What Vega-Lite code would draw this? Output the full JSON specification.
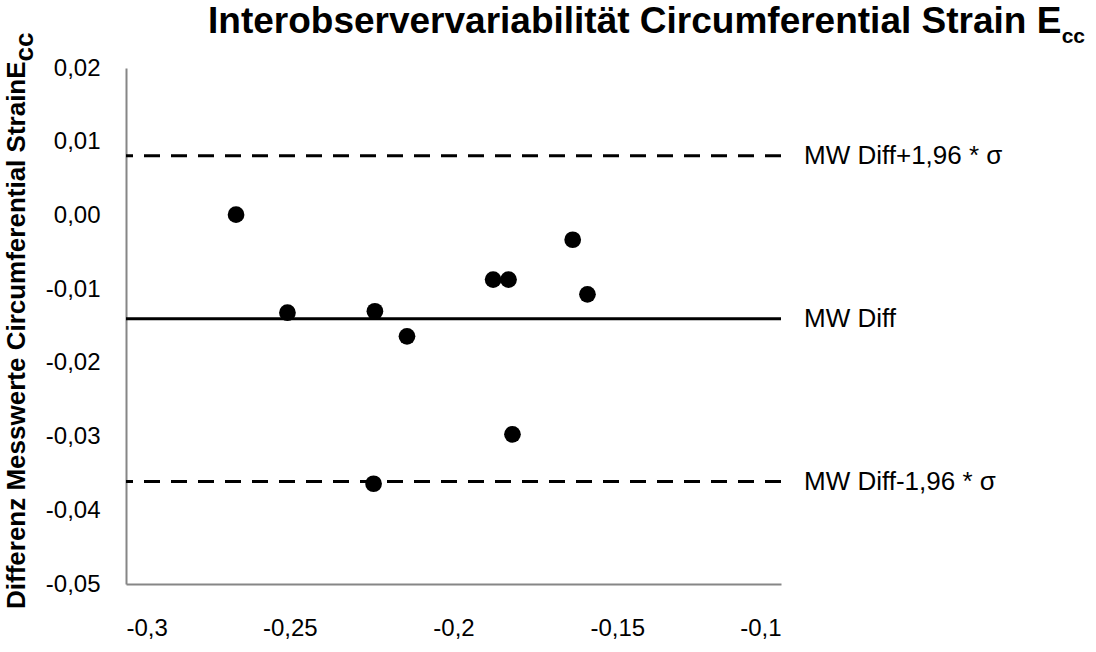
{
  "$schema": "https://vega.github.io/schema/vega-lite/v6.json",
  "width": 655,
  "height": 516,
  "autosize": {"type": "none"},
  "padding": {"left": 126, "top": 68, "right": 315, "bottom": 68},
  "background": "white",
  "config": {
    "locale": {"number": {"decimal": ",", "thousands": ".", "grouping": [3], "currency": ["", " €"], "minus": "-"}},
    "view": {"stroke": null},
    "font": "Liberation Sans"
  },
  "title": {
    "text": "Interobservervariabilität Circumferential Strain E\u00a0\u00a0\u200a\u200b",
    "subtitle": "cc",
    "anchor": "end",
    "frame": "group",
    "dx": 304,
    "dy": 26,
    "fontSize": 37,
    "fontWeight": "bold",
    "font": "Liberation Sans",
    "color": "black",
    "subtitleFontSize": 21,
    "subtitleFontWeight": "bold",
    "subtitleFont": "Liberation Sans",
    "subtitleColor": "black",
    "subtitlePadding": -15,
    "offset": 10
  },
  "datasets": {
    "points": [
      {"mean": -0.2664, "diff": 0.0001},
      {"mean": -0.2507, "diff": -0.0132},
      {"mean": -0.2240, "diff": -0.0130},
      {"mean": -0.2142, "diff": -0.0164},
      {"mean": -0.1879, "diff": -0.0087},
      {"mean": -0.1832, "diff": -0.0087},
      {"mean": -0.1636, "diff": -0.0033},
      {"mean": -0.1591, "diff": -0.0107},
      {"mean": -0.1820, "diff": -0.0297},
      {"mean": -0.2244, "diff": -0.0364}
    ],
    "lines": [
      {"label": "MW Diff+1,96 * σ", "value": 0.0081, "style": "dashed"},
      {"label": "MW Diff", "value": -0.0140, "style": "solid"},
      {"label": "MW Diff-1,96 * σ", "value": -0.0361, "style": "dashed"}
    ]
  },
  "layer": [
    {
      "data": {"name": "lines"},
      "mark": {"type": "rule", "strokeWidth": 3, "color": "black"},
      "encoding": {
        "y": {
          "field": "value",
          "type": "quantitative",
          "scale": {"domain": [-0.05, 0.02], "nice": false, "zero": false},
          "axis": {
            "values": [-0.05, -0.04, -0.03, -0.02, -0.01, 0, 0.01, 0.02],
            "format": ".2f",
            "grid": false,
            "ticks": false,
            "domainColor": "#868686",
            "domainWidth": 2,
            "labelFontSize": 24,
            "labelColor": "black",
            "labelPadding": 26,
            "title": ["Differenz Messwerte Circumferential StrainE\u00a0\u00a0\u00a0\u00a0\u200b", "cc"],
            "titleFontSize": 26,
            "titleFontWeight": "bold",
            "titleColor": "black",
            "titleAnchor": "end",
            "titleAlign": "right",
            "titleY": -36,
            "titleLineHeight": 8,
            "titlePadding": 8
          }
        },
        "strokeDash": {
          "field": "style",
          "type": "nominal",
          "scale": {"domain": ["dashed", "solid"], "range": [[16, 11], [1, 0]]},
          "legend": null
        }
      }
    },
    {
      "data": {"name": "lines"},
      "mark": {"type": "text", "align": "left", "baseline": "middle", "dx": 23, "fontSize": 26, "color": "black", "font": "Liberation Sans"},
      "encoding": {
        "x": {"datum": -0.1, "type": "quantitative"},
        "y": {"field": "value", "type": "quantitative"},
        "text": {"field": "label"}
      }
    },
    {
      "data": {"name": "points"},
      "mark": {"type": "circle", "size": 280, "opacity": 1, "color": "black"},
      "encoding": {
        "x": {
          "field": "mean",
          "type": "quantitative",
          "scale": {"domain": [-0.3, -0.1], "nice": false, "zero": false},
          "axis": {
            "values": [-0.3, -0.25, -0.2, -0.15, -0.1],
            "format": ".2~f",
            "grid": false,
            "ticks": false,
            "domainColor": "#868686",
            "domainWidth": 2,
            "labelFontSize": 24,
            "labelColor": "black",
            "labelPadding": 32,
            "title": null
          }
        },
        "y": {"field": "diff", "type": "quantitative"}
      }
    }
  ]
}
